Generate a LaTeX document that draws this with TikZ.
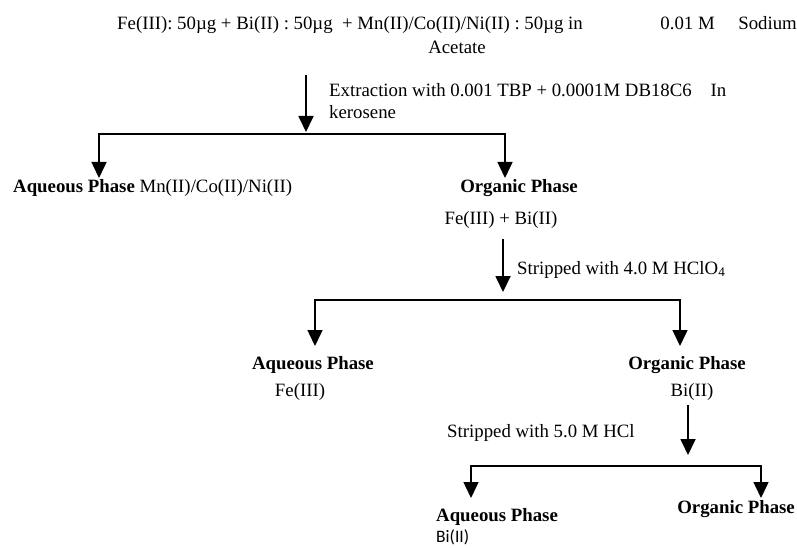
\documentclass[tikz,border=0pt]{standalone}
\usepackage{fontspec}
\setmainfont{Liberation Serif}
\newfontfamily\calibrifont{Carlito}
\usetikzlibrary{arrows.meta}
\usetikzlibrary{positioning}

\begin{document}
\begin{tikzpicture}[x=1pt,y=-1pt,
  lbl/.style={inner sep=0pt, font=\fontsize{18.8}{22}\selectfont},
  flow/.style={line width=1.8pt, -{Triangle[width=15pt,length=16pt]}},
  branch/.style={line width=1.5pt, line join=miter,
    {Triangle[width=15pt,length=16pt]}-{Triangle[width=15pt,length=16pt]}}]
\useasboundingbox (0,0) rectangle (797,548);

% feed solution
\node[lbl, anchor=base west] (feed) at (117,30) {Fe(III): 50µg + Bi(II) : 50µg \ + Mn(II)/Co(II)/Ni(II) : 50µg in};
\node[lbl, anchor=base east] (sodium) at (797,30) {0.01 M \quad Sodium};
\node[lbl, anchor=base] (acetate) at (457,54) {Acetate};

% extraction
\coordinate (top1) at (306,75);
\coordinate (j1) at (306,132);
\draw[flow] (top1) -- (j1);
\node[lbl, anchor=base west] (extr) at (329,97) {Extraction with 0.001 TBP + 0.0001M DB18C6 \ \ \ In};
\node[lbl, anchor=base west] (kero) at (329,119) {kerosene};

\node[lbl, anchor=base west] (aqA) at (13,193) {\textbf{Aqueous Phase} Mn(II)/Co(II)/Ni(II)};
\node[lbl, anchor=base] (orgA) at (519,193) {\textbf{Organic Phase}};
\node[lbl, anchor=base] (orgAc) at (501,224) {Fe(III) + Bi(II)};

% first stripping
\coordinate (top2) at (503,239);
\coordinate (j2) at (503,292);
\draw[flow] (top2) -- (j2);
\node[lbl, anchor=base west] (strA) at (517,274) {Stripped with 4.0 M HClO\textsubscript{4}};

\node[lbl, anchor=base] (aqB) at (313,369) {\textbf{Aqueous Phase}};
\node[lbl, anchor=base] (aqBc) at (300,396) {Fe(III)};
\node[lbl, anchor=base] (orgB) at (687,369) {\textbf{Organic Phase}};
\node[lbl, anchor=base] (orgBc) at (692,396) {Bi(II)};

% second stripping
\coordinate (top3) at (688,405);
\coordinate (j3) at (688,455);
\draw[flow] (top3) -- (j3);
\node[lbl, anchor=base west] (strB) at (447,437) {Stripped with 5.0 M HCl};

\node[lbl, anchor=base west] (aqC) at (436,521) {\textbf{Aqueous Phase}};
\node[lbl, anchor=base west, font=\calibrifont\fontsize{17.5}{21}\selectfont] (aqCc) at (436,542) {Bi(II)};
\node[lbl, anchor=base east] (orgC) at (795,513) {\textbf{Organic Phase}};

% split lines
\foreach \l/\r/\y/\t [count=\i] in {99/505/134/178, 315/680/300/346, 471/761/466/498} {
  \coordinate (bl\i) at (\l,\y);
  \coordinate (br\i) at (\r,\y);
  \draw[branch] (\l,\t) -- (bl\i) -- (br\i) -- (\r,\t);
}
\end{tikzpicture}
\end{document}
